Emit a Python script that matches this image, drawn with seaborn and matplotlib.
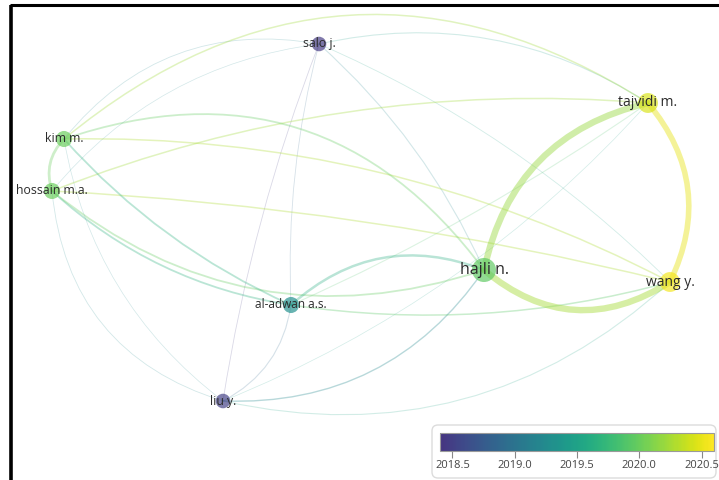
import numpy as np
import pandas as pd
import matplotlib
matplotlib.use("Agg")
import matplotlib.pyplot as plt
import seaborn as sns
from matplotlib.path import Path
from matplotlib.patches import PathPatch, FancyBboxPatch
from matplotlib.colors import ListedColormap, Normalize
from matplotlib.cm import ScalarMappable

# ---------------- data ----------------
authors = ["salo j.", "tajvidi m.", "kim m.", "hossain m.a.", "hajli n.", "wang y.", "al-adwan a.s.", "liu y."]
node_x = [319, 648, 64, 52, 484, 670, 291, 223]
node_y = [44, 103, 139, 191, 270, 282, 305, 401]
avg_year = [2018.45, 2020.45, 2020.0, 2020.0, 2019.95, 2020.55, 2019.3, 2018.5]
weight = [2, 4, 2.5, 2.5, 6, 4, 2.5, 2]
label_size = [8.8, 10, 8.8, 8.8, 11.5, 10, 8.5, 8.8]

edge_src = [1, 4, 1, 2, 6, 2, 2, 3, 3, 2, 3, 2, 3, 6, 6, 0, 0, 0, 0, 0, 0, 0, 7, 7, 7, 7, 7, 7]
edge_dst = [4, 5, 5, 3, 4, 1, 4, 1, 5, 5, 6, 6, 4, 5, 1, 1, 4, 5, 6, 7, 2, 3, 4, 5, 6, 3, 2, 1]
edge_w = [4.6, 4.6, 4.0, 2.0, 1.8, 1.1, 1.3, 1.1, 1.1, 1.1, 1.3, 1.3, 1.3, 1.1, 0.8,
          0.8, 0.8, 0.6, 0.6, 0.6, 0.6, 0.5, 1.0, 0.8, 0.8, 0.6, 0.5, 0.5]
edge_bend = [37, 34, -29, 8, -30, -106, -80, -35, -15, -40, 20, 15, 60, 20, 10,
             -35, -15, -20, 10, 10, 40, 30, 40, 60, 15, -45, -30, 30]

year_ticks = [2018.5, 2019.0, 2019.5, 2020.0, 2020.5]
year_min, year_max = 2018.4, 2020.6

# ---------------- style ----------------
sns.set_theme(style="white")
plt.rcParams["font.family"] = ["Open Sans", "DejaVu Sans"]

base = plt.get_cmap("viridis")
cmap = ListedColormap(base(np.linspace(0.15, 1.0, 256)))
norm = Normalize(year_min, year_max)

fig = plt.figure(figsize=(7.19, 4.8), dpi=100)
ax = fig.add_axes([0, 0, 1, 1])

nodes = pd.DataFrame({"author": authors, "x": node_x, "y": node_y,
                      "year": avg_year, "weight": weight})

# edges as quadratic Bezier curves
order = np.argsort(edge_w)
for i in order:
    s, t = edge_src[i], edge_dst[i]
    x0, y0, x1, y1 = node_x[s], node_y[s], node_x[t], node_y[t]
    dx, dy = x1 - x0, y1 - y0
    L = np.hypot(dx, dy)
    nx, ny = -dy / L, dx / L
    cx = (x0 + x1) / 2 + 2 * edge_bend[i] * nx
    cy = (y0 + y1) / 2 + 2 * edge_bend[i] * ny
    col = cmap(norm((avg_year[s] + avg_year[t]) / 2))
    alpha = 0.45 if edge_w[i] > 2 else (0.32 if edge_w[i] >= 1 else 0.2)
    path = Path([(x0, y0), (cx, cy), (x1, y1)], [Path.MOVETO, Path.CURVE3, Path.CURVE3])
    ax.add_patch(PathPatch(path, facecolor="none", edgecolor=col, lw=edge_w[i],
                           alpha=alpha, capstyle="round", zorder=1))

sns.scatterplot(data=nodes, x="x", y="y", hue="year", palette=cmap, hue_norm=norm,
                size="weight", sizes=(110, 300), legend=False, alpha=0.68,
                edgecolor="none", ax=ax, zorder=3)
ax.set_xlim(0, 719)
ax.set_ylim(480, 0)
ax.axis("off")

for a, x, y, fs in zip(authors, node_x, node_y, label_size):
    ax.text(x, y, a, ha="center", va="center", fontsize=fs, color="#2b2b2b", zorder=4)

# frame
ax.plot([10, 719], [5, 5], color="black", lw=2.2, zorder=5, solid_capstyle="butt")
ax.plot([11, 11], [5, 480], color="black", lw=2.6, zorder=5, solid_capstyle="butt")

# colour legend box
box = FancyBboxPatch((432, 425), 284, 53, boxstyle="round,pad=0,rounding_size=6",
                     facecolor="white", edgecolor="#dcdcdc", lw=1, zorder=6)
ax.add_patch(box)
cax = fig.add_axes([440 / 719, 1 - 451 / 480, 274 / 719, 18 / 480])
cb = fig.colorbar(ScalarMappable(norm=norm, cmap=cmap), cax=cax, orientation="horizontal",
                  ticks=year_ticks)
cb.outline.set_edgecolor("#9a9a9a")
cb.outline.set_linewidth(0.8)
cax.tick_params(axis="x", direction="out", length=5, width=0.8, color="#888888",
                labelsize=8, labelcolor="#444444", pad=1.5)
cax.set_xticklabels([f"{v:.1f}" for v in year_ticks])

fig.savefig("out.png", dpi=100)
